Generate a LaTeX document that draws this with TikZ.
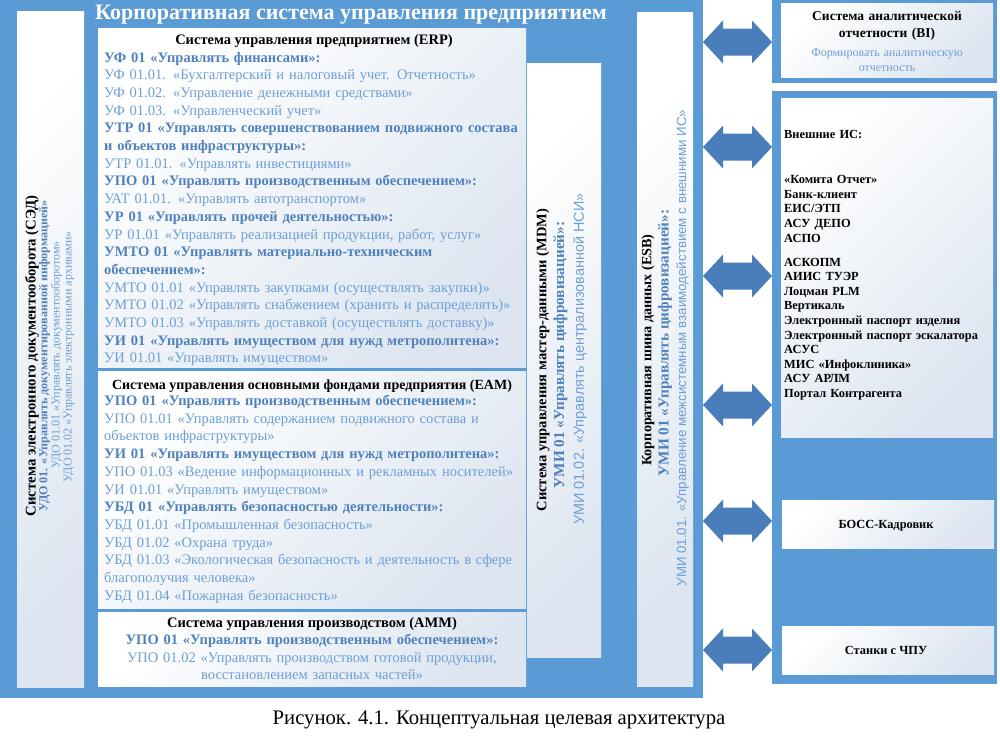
\documentclass[tikz,border=0pt]{standalone}
\usepackage{fontspec}
\setmainfont{Liberation Serif}
\newfontfamily\sansc{Liberation Sans}
\definecolor{bgblue}{HTML}{5B9BD5}
\definecolor{arrblue}{HTML}{4A7EBB}
\definecolor{hdblue}{HTML}{4F81BD}
\definecolor{ltblue}{HTML}{6C9FD6}
\definecolor{gradc}{HTML}{DCE5F0}
\newcommand\Hd[1]{{\bfseries\color{hdblue}#1}}
\newcommand\Lt[1]{{\color{ltblue}#1}}
\newcommand\myarrow[2]{%
  \coordinate (#1) at (703,#2);
  \fill[arrblue] (#1) -- ++(20,-21.5) -- ++(0,8) -- ++(29,0) -- ++(0,-8) -- ++(20,21.5)
    -- ++(-20,21.5) -- ++(0,-8) -- ++(-29,0) -- ++(0,8) -- cycle;}
\begin{document}
\begin{tikzpicture}[x=1pt,y=-1pt,
  wbox/.style={top color=white,bottom color=gradc,shading angle=45},
  body/.style={inner sep=0pt,font=\fontsize{14.5}{17.7}\selectfont},
  head/.style={inner sep=0pt,font=\fontsize{14.5}{17.7}\selectfont\bfseries},
  vt/.style={inner sep=0pt,rotate=90}]
\useasboundingbox (0,0) rectangle (1000,737);
\fill[white] (0,0) rectangle (1000,737);
% main blue panel
\fill[bgblue] (0,0) rectangle (703,698);
\node[anchor=base,inner sep=0pt,text=white,font=\fontsize{22}{24}\selectfont\bfseries] (title) at (351,19.5) {Корпоративная система управления предприятием};
% SED
\path[wbox] (17,11) rectangle (84,687);
\node[vt,font=\fontsize{14.8}{15}\selectfont\bfseries] (sed1) at (32,356) {Система электронного документооборота (СЭД)};
\node[vt,font=\fontsize{12.1}{13}\selectfont\bfseries,text=hdblue] (sed2) at (44.5,356) {УДО 01. «Управлять документированной информацией»};
\node[vt,font=\fontsize{12}{13}\selectfont,text=ltblue] (sed3) at (56.5,355) {УДО 01.01 «Управлять документооборотом»};
\node[vt,font=\fontsize{12}{13}\selectfont,text=ltblue] (sed4) at (69,357) {УДО 01.02 «Управлять электронными архивами»};
% ERP
\path[wbox] (98,28) rectangle (526,367);
\node[head,anchor=base] (erph) at (314,44.5) {Система управления предприятием (ERP)};
\node[body,anchor=base west,align=left,text width=470] (erpt) at (104,62) {%
\Hd{УФ 01 «Управлять финансами»:}\\
\Lt{УФ 01.01. «Бухгалтерский и налоговый учет. Отчетность»}\\
\Lt{УФ 01.02. «Управление денежными средствами»}\\
\Lt{УФ 01.03. «Управленческий учет»}\\
\Hd{УТР 01 «Управлять совершенствованием подвижного состава}\\
\Hd{и объектов инфраструктуры»:}\\
\Lt{УТР 01.01. «Управлять инвестициями»}\\
\Hd{УПО 01 «Управлять производственным обеспечением»:}\\
\Lt{УАТ 01.01. «Управлять автотранспортом»}\\
\Hd{УР 01 «Управлять прочей деятельностью»:}\\
\Lt{УР 01.01 «Управлять реализацией продукции, работ, услуг»}\\
\Hd{УМТО 01 «Управлять материально-техническим}\\
\Hd{обеспечением»:}\\
\Lt{УМТО 01.01 «Управлять закупками (осуществлять закупки)»}\\
\Lt{УМТО 01.02 «Управлять снабжением (хранить и распределять)»}\\
\Lt{УМТО 01.03 «Управлять доставкой (осуществлять доставку)»}\\
\Hd{УИ 01 «Управлять имуществом для нужд метрополитена»:}\\
\Lt{УИ 01.01 «Управлять имуществом»}};
% EAM
\path[wbox] (98,371) rectangle (526,608);
\node[head,anchor=base,font=\fontsize{14}{17.7}\selectfont\bfseries] (eamh) at (312,389) {Система управления основными фондами предприятия (EAM)};
\node[body,anchor=base west,align=left,text width=470] (eamt) at (104,405.5) {%
\Hd{УПО 01 «Управлять производственным обеспечением»:}\\
\Lt{УПО 01.01 «Управлять содержанием подвижного состава и}\\
\Lt{объектов инфраструктуры»}\\
\Hd{УИ 01 «Управлять имуществом для нужд метрополитена»:}\\
\Lt{УПО 01.03 «Ведение информационных и рекламных носителей»}\\
\Lt{УИ 01.01 «Управлять имуществом»}\\
\Hd{УБД 01 «Управлять безопасностью деятельности»:}\\
\Lt{УБД 01.01 «Промышленная безопасность»}\\
\Lt{УБД 01.02 «Охрана труда»}\\
\Lt{УБД 01.03 «Экологическая безопасность и деятельность в сфере}\\
\Lt{благополучия человека»}\\
\Lt{УБД 01.04 «Пожарная безопасность»}};
% AMM
\path[wbox] (98,612) rectangle (526,686);
\node[head,anchor=base] (ammh) at (312,627) {Система управления производством (AMM)};
\node[body,anchor=base,align=center,text width=420] (ammt) at (312,644.5) {%
\Hd{УПО 01 «Управлять производственным обеспечением»:}\\
\Lt{УПО 01.02 «Управлять производством готовой продукции,}\\
\Lt{восстановлением запасных частей»}};
% MDM
\path[wbox] (527,63) rectangle (601,657);
\node[vt,font=\fontsize{14.5}{15}\selectfont\bfseries] (mdm1) at (543,360) {Система управления мастер-данными (MDM)};
\node[vt,font=\fontsize{15.2}{16}\selectfont\bfseries,text=hdblue] (mdm2) at (560.5,355) {УМИ 01 «Управлять цифровизацией»:};
\node[vt,font=\fontsize{14.4}{16}\selectfont\sansc,text=ltblue] (mdm3) at (580,359) {УМИ 01.02. «Управлять централизованной НСИ»};
% ESB
\path[wbox] (637,12) rectangle (693,686);
\node[vt,font=\fontsize{14.2}{15}\selectfont\bfseries] (esb1) at (648,350) {Корпоративная шина данных (ESB)};
\node[vt,font=\fontsize{15.2}{16}\selectfont\bfseries,text=hdblue] (esb2) at (665,343) {УМИ 01 «Управлять цифровизацией»:};
\node[vt,font=\fontsize{13.3}{14}\selectfont\sansc,text=ltblue] (esb3) at (682.5,348) {УМИ 01.01. «Управление межсистемным взаимодействием с внешними ИС»};
% arrows
\myarrow{a1}{42}
\myarrow{a2}{147}
\myarrow{a3}{276}
\myarrow{a4}{405}
\myarrow{a5}{521}
\myarrow{a6}{650}
% BI
\fill[bgblue] (772,0) rectangle (997,83);
\path[wbox] (781,3) rectangle (993,77);
\node[head,anchor=base,align=center,text width=200,font=\fontsize{13.5}{17.5}\selectfont\bfseries] (bih) at (887,20) {Система аналитической\\отчетности (BI)};
\node[inner sep=0pt,anchor=base,align=center,text width=200,text=ltblue,font=\fontsize{12}{15.5}\selectfont] (bit) at (887,56) {Формировать аналитическую\\отчетность};
% right panel
\fill[bgblue] (772,91) rectangle (997,684);
\path[wbox] (781,98) rectangle (993,437);
\node[inner sep=0pt,anchor=base west,align=left,text width=205,font=\fontsize{12.4}{14.6}\selectfont\bfseries] (ext) at (784,138.5) {%
Внешние ИС:\\[30.5pt]
«Комита Отчет»\\
Банк-клиент\\
ЕИС/ЭТП\\
АСУ ДЕПО\\
АСПО\\[9.4pt]
АСКОПМ\\
АИИС ТУЭР\\
Лоцман PLM\\
Вертикаль\\
Электронный паспорт изделия\\
Электронный паспорт эскалатора\\
АСУС\\
МИС «Инфоклиника»\\
АСУ АРЛМ\\
Портал Контрагента};
\path[wbox] (782,500) rectangle (994,548);
\node[inner sep=0pt,font=\fontsize{12.4}{14}\selectfont\bfseries] (boss) at (886,526) {БОСС-Кадровик};
\path[wbox] (782,626) rectangle (994,674);
\node[inner sep=0pt,font=\fontsize{12.4}{14}\selectfont\bfseries] (cnc) at (886,650) {Станки с ЧПУ};
% caption
\node[inner sep=0pt,anchor=base,font=\fontsize{20.7}{22}\selectfont] (cap) at (499,724.5) {Рисунок. 4.1. Концептуальная целевая архитектура};
\end{tikzpicture}
\end{document}
